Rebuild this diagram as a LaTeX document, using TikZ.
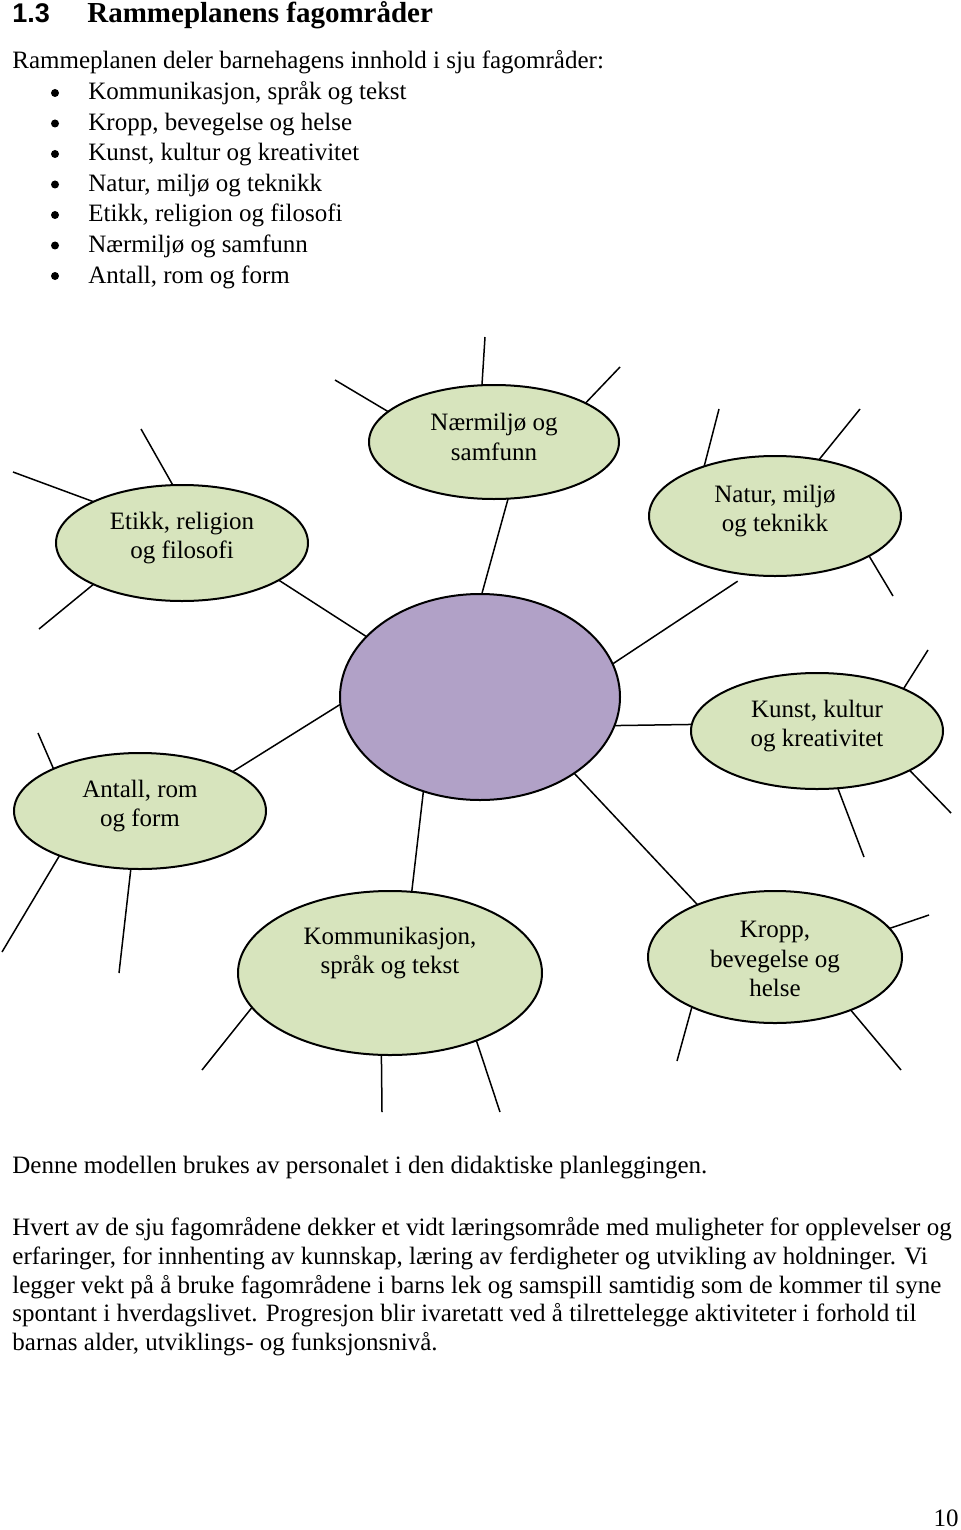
\documentclass[tikz,border=0pt]{standalone}
\usepackage{fontspec}
\setmainfont{Liberation Serif}
\newfontfamily\headsans{Liberation Sans}
\usetikzlibrary{shapes.geometric}
\definecolor{areagreen}{RGB}{215,228,189}
\definecolor{corepurple}{RGB}{177,161,199}
\tikzset{
  area/.style={ellipse, draw=black, line width=1pt, fill=areagreen, inner sep=0pt, outer sep=0pt},
  spoke/.style={draw=black, line width=0.75pt},
  body/.style={font=\fontsize{12.5}{14.5}\selectfont, inner sep=0pt, anchor=base west},
  lbl/.style={font=\fontsize{12.5}{14.75}\selectfont, align=center, inner sep=0pt},
  bulletdot/.style={circle, fill=black, inner sep=0pt, minimum size=4pt},
}
\begin{document}
\begin{tikzpicture}[x=0.5pt,y=-0.5pt]
\useasboundingbox (0,0) rectangle (960,1530);
\fill[white] (0,0) rectangle (960,1530);

% heading
\node[anchor=base west, inner sep=0pt, font=\headsans\bfseries\fontsize{13.5}{15}\selectfont] (num) at (12,23) {1.3};
\node[anchor=base west, inner sep=0pt, font=\bfseries\fontsize{14.5}{17}\selectfont] (title) at (87,23) {Rammeplanens fagområder};

\node[body] (intro) at (12,69) {Rammeplanen deler barnehagens innhold i sju fagområder:};
\foreach \t [count=\i] in {{Kommunikasjon, språk og tekst},{Kropp, bevegelse og helse},{Kunst, kultur og kreativitet},{Natur, miljø og teknikk},{Etikk, religion og filosofi},{Nærmiljø og samfunn},{Antall, rom og form}}{
  \node[body] (item\i) at (88,{100+(\i-1)*30.5}) {\t};
  \node[bulletdot] (bul\i) at (55,{93+(\i-1)*30.5}) {};
}

% ellipses
\node[area, fill=corepurple, minimum width=140pt, minimum height=103pt] (c) at (480,697) {};
\node[area, minimum width=125pt, minimum height=57pt] (naer) at (494,442) {};
\node[area, minimum width=126pt, minimum height=58pt] (etikk) at (182,543) {};
\node[area, minimum width=126pt, minimum height=60pt] (natur) at (775,516) {};
\node[area, minimum width=126pt, minimum height=58pt] (kunst) at (817,731) {};
\node[area, minimum width=126pt, minimum height=58pt] (antall) at (140,811) {};
\node[area, minimum width=152pt, minimum height=82pt] (komm) at (390,973) {};
\node[area, minimum width=127pt, minimum height=66pt] (kropp) at (775,957) {};

\node[lbl] (naerT) at ([yshift=2.5pt]naer.center) {Nærmiljø og\\samfunn};
\node[lbl] (etikkT) at ([yshift=2.5pt]etikk.center) {Etikk, religion\\og filosofi};
\node[lbl] (naturT) at ([yshift=2.5pt]natur.center) {Natur, miljø\\og teknikk};
\node[lbl] (kunstT) at ([yshift=2.5pt]kunst.center) {Kunst, kultur\\og kreativitet};
\node[lbl] (antallT) at ([yshift=2.5pt]antall.center) {Antall, rom\\og form};
\node[lbl] (kommT) at ([yshift=10pt]komm.center) {Kommunikasjon,\\språk og tekst};
\node[lbl] (kroppT) at ([yshift=-1pt]kropp.center) {Kropp,\\bevegelse og\\helse};

% connectors centre -> areas
\draw[spoke] (c.152) -- (etikk.339);
\draw[spoke] (c.89) -- (naer.284);
\draw[spoke, shorten >=6pt] (c.14) -- (natur.245);
\draw[spoke] (c.183) -- (antall.23);
\draw[spoke] (c.239) -- (komm.75);
\draw[spoke] (c.348) -- (kunst.177);
\draw[spoke] (c.321) -- (kropp.146);

% free ends
\coordinate (n1) at (335,380); \coordinate (n2) at (485,337); \coordinate (n3) at (620,367);
\coordinate (e1) at (141,429); \coordinate (e2) at (13,472); \coordinate (e3) at (39,629);
\coordinate (t1) at (719,409); \coordinate (t2) at (860,409); \coordinate (t3) at (893,596);
\coordinate (a1) at (38,733); \coordinate (a2) at (2,952); \coordinate (a3) at (119,973);
\coordinate (k1) at (928,650); \coordinate (k2) at (951,813); \coordinate (k3) at (864,857);
\coordinate (m1) at (202,1070); \coordinate (m2) at (382,1112); \coordinate (m3) at (500,1112);
\coordinate (r1) at (929,915); \coordinate (r2) at (677,1061); \coordinate (r3) at (901,1070);

\draw[spoke] (naer.164) -- (n1);
\draw[spoke] (naer.102) -- (n2);
\draw[spoke] (naer.23) -- (n3);
\draw[spoke] (etikk.99) -- (e1);
\draw[spoke] (etikk.155) -- (e2);
\draw[spoke] (etikk.205) -- (e3);
\draw[spoke] (natur.145) -- (t1);
\draw[spoke] (natur.52) -- (t2);
\draw[spoke] (natur.337) -- (t3);
\draw[spoke] (antall.154) -- (a1);
\draw[spoke] (antall.209) -- (a2);
\draw[spoke] (antall.261) -- (a3);
\draw[spoke] (kunst.26) -- (k1);
\draw[spoke] (kunst.337) -- (k2);
\draw[spoke] (kunst.290) -- (k3);
\draw[spoke] (komm.194) -- (m1);
\draw[spoke] (komm.264) -- (m2);
\draw[spoke] (komm.322) -- (m3);
\draw[spoke] (kropp.14) -- (r1);
\draw[spoke] (kropp.211) -- (r2);
\draw[spoke] (kropp.325) -- (r3);

% text below
\node[body] (p0) at (12,1173) {Denne modellen brukes av personalet i den didaktiske planleggingen.};
\node[body] (p1) at (12,1235) {Hvert av de sju fagområdene dekker et vidt læringsområde med muligheter for opplevelser og};
\node[body] (p2) at (12,1264) {erfaringer, for innhenting av kunnskap, læring av ferdigheter og utvikling av holdninger. Vi};
\node[body] (p3) at (12,1293) {legger vekt på å bruke fagområdene i barns lek og samspill samtidig som de kommer til syne};
\node[body] (p4) at (12,1321) {spontant i hverdagslivet. Progresjon blir ivaretatt ved å tilrettelegge aktiviteter i forhold til};
\node[body] (p5) at (12,1350) {barnas alder, utviklings- og funksjonsnivå.};
\node[body, anchor=base east] (pg) at (959,1526) {10};
\end{tikzpicture}
\end{document}
